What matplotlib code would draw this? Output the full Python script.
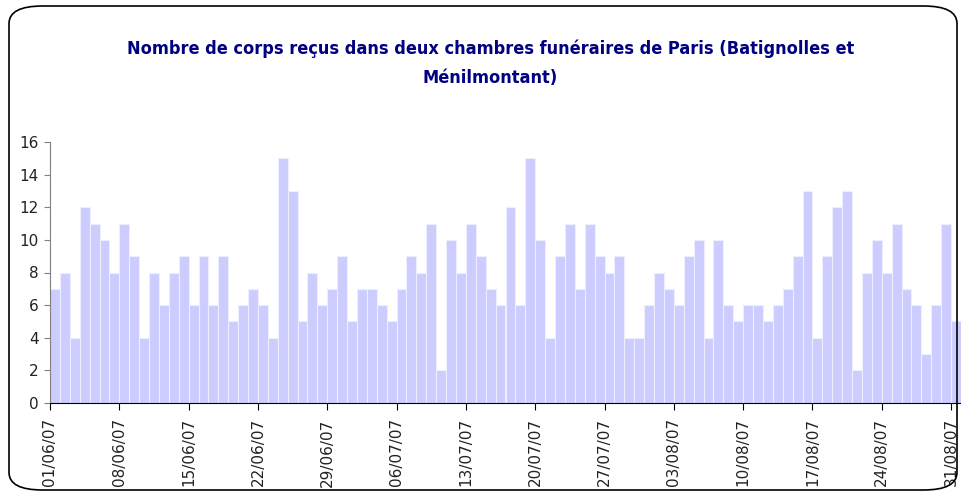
import numpy as np
import pandas as pd
import matplotlib
matplotlib.use("Agg")
import matplotlib.pyplot as plt
import matplotlib.dates as mdates
from matplotlib.patches import FancyBboxPatch

# daily counts, 01/06/2007 -> 31/08/2007
june = [7, 8, 4, 12, 11, 10, 8, 11, 9, 4, 8, 6, 8, 9, 6, 9, 6, 9, 5, 6,
        7, 6, 4, 15, 13, 5, 8, 6, 7, 9]
july = [5, 7, 7, 6, 5, 7, 9, 8, 11, 2, 10, 8, 11, 9, 7, 6, 12, 6, 15, 10,
        4, 9, 11, 7, 11, 9, 8, 9, 4, 4, 6]
august = [8, 7, 6, 9, 10, 4, 10, 6, 5, 6, 6, 5, 6, 7, 9, 13, 4, 9, 12, 13,
          2, 8, 10, 8, 11, 7, 6, 3, 6, 11, 5]
counts = june + july + august
dates = pd.date_range("2007-06-01", periods=len(counts), freq="D")
tick_dates = pd.date_range("2007-06-01", "2007-08-31", freq="7D")

title = "Nombre de corps reçus dans deux chambres funéraires de Paris (Batignolles et\nMénilmontant)"

fig = plt.figure(figsize=(9.62, 5), dpi=100)
ax = fig.add_axes([50 / 962, 97 / 500, 911 / 962, 261 / 500])

# rounded frame around the chart
frame = FancyBboxPatch((9 / 962, 10 / 500), 948 / 962, 484 / 500,
                       boxstyle="round,pad=0,rounding_size=0.035",
                       transform=fig.transFigure, fill=False,
                       edgecolor="black", linewidth=1.2, zorder=0)
fig.patches.append(frame)

x = mdates.date2num(dates.to_pydatetime())
ax.bar(x, counts, width=1.0, align="edge", color="#ccccff",
       edgecolor="#eeeeff", linewidth=0.8)

ax.set_xlim(mdates.date2num(pd.Timestamp("2007-06-01")),
            mdates.date2num(pd.Timestamp("2007-09-01")))
ax.set_ylim(0, 16)
ax.set_yticks(np.arange(0, 17, 2))
ax.set_xticks(mdates.date2num(tick_dates.to_pydatetime()))
ax.xaxis.set_major_formatter(mdates.DateFormatter("%d/%m/%y"))

for s in ["top", "right"]:
    ax.spines[s].set_visible(False)
ax.spines["left"].set_color("#808080")
ax.spines["bottom"].set_color("black")
ax.tick_params(axis="y", labelsize=11, length=4, color="#808080", pad=4,
               labelcolor="#222222")
ax.tick_params(axis="x", labelsize=11, length=5, rotation=90, pad=6,
               labelcolor="#222222")

fig.text(0.51, 0.922, title, ha="center", va="top", color="#000080",
         fontsize=13, fontweight="bold", fontstretch="condensed",
         linespacing=1.85, family="DejaVu Sans")

fig.savefig("out.png", dpi=100)
